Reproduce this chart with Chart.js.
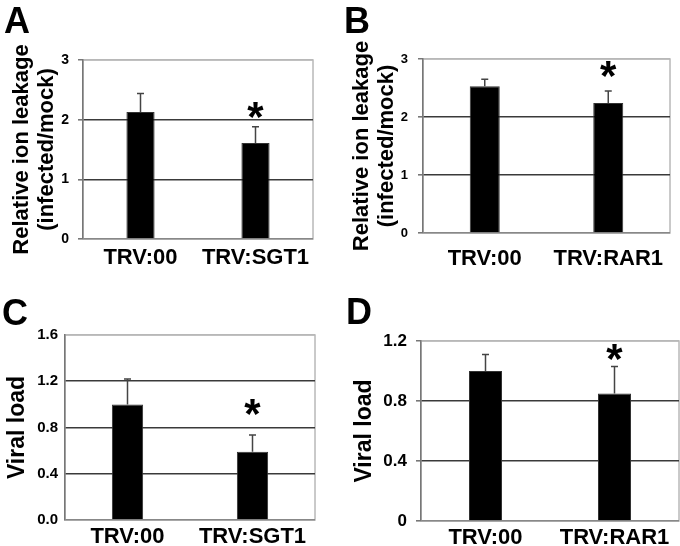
<!DOCTYPE html>
<html>
<head>
<meta charset="utf-8">
<script src="https://cdn.jsdelivr.net/npm/chart.js@4"></script>
<style>
  html, body { margin: 0; padding: 0; background: #fff; }
  #wrap { position: relative; width: 680px; height: 546px; overflow: hidden; }
  .panel { position: absolute; width: 340px; height: 273px; }
  .letter { position: absolute; font: bold 36px "Liberation Sans", Arial, sans-serif; line-height: 1; color: #000; }
</style>
</head>
<body>
<div id="wrap">
  <div class="panel" style="left:0;top:0"><canvas id="cA" width="340" height="273"></canvas></div>
  <div class="panel" style="left:340px;top:0"><canvas id="cB" width="340" height="273"></canvas></div>
  <div class="panel" style="left:0;top:273px"><canvas id="cC" width="340" height="273"></canvas></div>
  <div class="panel" style="left:340px;top:273px"><canvas id="cD" width="340" height="273"></canvas></div>
  <div class="letter" style="left:4px;top:3px">A</div>
  <div class="letter" style="left:344px;top:3px">B</div>
  <div class="letter" style="left:2px;top:295px">C</div>
  <div class="letter" style="left:346px;top:294px">D</div>
</div>
<script>
// ---- data ----
const catsA = ['TRV:00', 'TRV:SGT1'];
const valsA = [2.13, 1.61];
const errA  = [0.31, 0.27];
const starA = [null, 2.14];
const ticksA = ['0', '1', '2', '3'];

const catsB = ['TRV:00', 'TRV:RAR1'];
const valsB = [2.53, 2.24];
const errB  = [0.12, 0.21];
const starB = [null, 2.82];
const ticksB = ['0', '1', '2', '3'];

const catsC = ['TRV:00', 'TRV:SGT1'];
const valsC = [1.0, 0.59];
const errC  = [0.22, 0.145];
const starC = [null, 0.97];
const ticksC = ['0.0', '0.4', '0.8', '1.2', '1.6'];

const catsD = ['TRV:00', 'TRV:RAR1'];
const valsD = [1.0, 0.85];
const errD  = [0.11, 0.18];
const starD = [null, 1.12];
const ticksD = ['0', '0.4', '0.8', '1.2'];

const FONT = '"Liberation Sans", Arial, sans-serif';
const STAR = 42;

const extras = {
  id: 'extras',
  beforeDraw(chart) {
    const a = chart.chartArea, ctx = chart.ctx;
    ctx.save();
    ctx.strokeStyle = '#b8b8b8';
    ctx.lineWidth = 1.5;
    ctx.strokeRect(a.left, a.top, a.right - a.left, a.bottom - a.top);
    ctx.restore();
  },
  afterDatasetsDraw(chart) {
    const o = chart.options.plugins.extras;
    const ctx = chart.ctx, y = chart.scales.y;
    const meta = chart.getDatasetMeta(0);
    ctx.save();
    meta.data.forEach((bar, i) => {
      const v = chart.data.datasets[0].data[i];
      const top = y.getPixelForValue(v + o.err[i]);
      const base = y.getPixelForValue(v);
      ctx.strokeStyle = '#444';
      ctx.lineWidth = 1.5;
      ctx.beginPath();
      ctx.moveTo(bar.x, base);
      ctx.lineTo(bar.x, top);
      ctx.moveTo(bar.x - 3.5, top);
      ctx.lineTo(bar.x + 3.5, top);
      ctx.stroke();
      if (o.star[i] != null) {
        const sy = y.getPixelForValue(o.star[i]);
        ctx.fillStyle = '#000';
        ctx.font = 'bold ' + STAR + 'px ' + FONT;
        ctx.textAlign = 'center';
        ctx.textBaseline = 'alphabetic';
        ctx.fillText('*', bar.x, sy + 0.48 * STAR);
      }
    });
    ctx.restore();
  }
};

function makeChart(id, cfg) {
  const n = cfg.ticks.length;
  new Chart(document.getElementById(id), {
    type: 'bar',
    data: {
      labels: cfg.cats,
      datasets: [{
        data: cfg.vals,
        backgroundColor: '#000',
        borderColor: '#333',
        borderWidth: 1,
        barPercentage: 1,
        categoryPercentage: cfg.catPct
      }]
    },
    options: {
      responsive: false,
      animation: false,
      devicePixelRatio: 1,
      layout: { padding: { top: cfg.top, right: cfg.right, left: 0, bottom: 0 } },
      plugins: {
        legend: { display: false },
        tooltip: { enabled: false },
        extras: { err: cfg.err, star: cfg.star }
      },
      scales: {
        x: {
          grid: { display: false },
          border: { display: false },
          ticks: {
            color: '#000',
            padding: cfg.xPad,
            maxRotation: 0,
            font: { family: FONT, size: 22, weight: 'bold' }
          },
          afterFit(s) { s.height = cfg.xH; }
        },
        y: {
          min: 0,
          max: cfg.max,
          ticks: {
            stepSize: cfg.step,
            color: '#000',
            padding: cfg.yPad,
            font: { family: FONT, size: cfg.tickSize, weight: 'bold' },
            callback: (v, i) => cfg.ticks[i]
          },
          grid: {
            drawTicks: cfg.drawTicks,
            tickLength: 5,
            tickColor: '#777',
            lineWidth: (c) => (c.index === n - 1 ? 1.5 : 1.6),
            color: (c) => (c.index === 0 ? '#888' : (c.index === n - 1 ? '#b8b8b8' : '#3a3a3a'))
          },
          border: { display: true, color: '#777', width: 1.5 },
          title: {
            display: true,
            text: cfg.title,
            color: '#000',
            padding: { top: cfg.titlePad, bottom: 0 },
            font: { family: FONT, size: cfg.titleSize, weight: 'bold', lineHeight: 1.15 }
          },
          afterFit(s) { s.width = cfg.yW; }
        }
      }
    },
    plugins: [extras]
  });
}

makeChart('cA', { cats: catsA, vals: valsA, err: errA, star: starA, ticks: ticksA,
  max: 3, step: 1, top: 60, right: 27, yW: 83, xH: 34, xPad: -2, yPad: 9, drawTicks: true,
  tickSize: 14, catPct: 0.245, title: ['Relative ion leakage', '(infected/mock)'], titleSize: 22, titlePad: 9 });

makeChart('cB', { cats: catsB, vals: valsB, err: errB, star: starB, ticks: ticksB,
  max: 3, step: 1, top: 59, right: 10, yW: 83, xH: 40, xPad: 5, yPad: 10, drawTicks: true,
  tickSize: 13, catPct: 0.243, title: ['Relative ion leakage', '(infected/mock)'], titleSize: 22, titlePad: 9 });

makeChart('cC', { cats: catsC, vals: valsC, err: errC, star: starC, ticks: ticksC,
  max: 1.6, step: 0.4, top: 62, right: 25, yW: 65, xH: 26, xPad: -4, yPad: 7, drawTicks: false,
  tickSize: 15, catPct: 0.25, title: 'Viral load', titleSize: 23, titlePad: 4 });

makeChart('cD', { cats: catsD, vals: valsD, err: errD, star: starD, ticks: ticksD,
  max: 1.2, step: 0.4, top: 68, right: 1, yW: 81, xH: 25, xPad: -4, yPad: 9, drawTicks: true,
  tickSize: 17, catPct: 0.256, title: 'Viral load', titleSize: 23, titlePad: 11 });
</script>
</body>
</html>
